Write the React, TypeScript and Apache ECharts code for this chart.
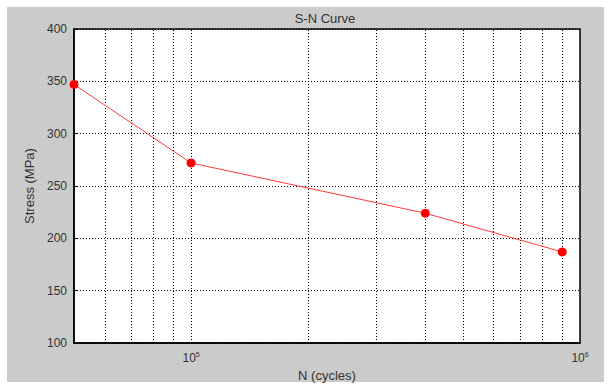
import React, { useEffect, useRef } from "react";
import * as echarts from "echarts";

const cycles = [50000, 100000, 400000, 900000];
const stress = [347, 272, 224, 187];
const minorGridX = [60000, 70000, 80000, 90000, 100000, 200000, 300000, 400000, 500000, 600000, 700000, 800000, 900000];
const titleText = "S-N Curve";
const xName = "N (cycles)";
const yName = "Stress (MPa)";

export default function App() {
  const ref = useRef<HTMLDivElement>(null);
  useEffect(() => {
    if (!ref.current) return;
    const chart = echarts.init(ref.current, undefined, { renderer: "svg" });
    const font = "Liberation Sans, Arial, sans-serif";
    chart.setOption({
      animation: false,
      backgroundColor: "#ffffff",
      textStyle: { fontFamily: font },
      graphic: [
        { type: "rect", z: -10, shape: { x: 7, y: 7, width: 597, height: 375 }, style: { fill: "#cbcbcb" }, silent: true },
        { type: "text", x: 325, y: 18, style: { text: titleText, textAlign: "center", textVerticalAlign: "middle", fontSize: 13, fill: "#333", fontFamily: font } },
      ],
      grid: { left: 74, right: 31, top: 29, bottom: 44, show: true, backgroundColor: "#ffffff", borderColor: "#000", borderWidth: 1.5 },
      xAxis: {
        type: "log",
        logBase: 10,
        min: 50000,
        max: 1000000,
        name: xName,
        nameLocation: "middle",
        nameGap: 25,
        nameTextStyle: { fontSize: 13, color: "#333", fontFamily: font },
        axisLine: { show: true, lineStyle: { color: "#000", width: 1.5 } },
        axisTick: { show: false },
        splitLine: { show: false },
        axisLabel: {
          color: "#333",
          fontSize: 12,
          fontFamily: font,
          margin: 8,
          showMinLabel: true,
          showMaxLabel: true,
          formatter: (v: number) => {
            const l = Math.log10(v);
            const e = Math.round(l);
            if (Math.abs(l - e) > 1e-6) return "";
            return "10{sup|" + e + "}";
          },
          rich: { sup: { fontSize: 7, verticalAlign: "top", lineHeight: 14, padding: [0, 0, 6, 0], color: "#333" } },
        },
      },
      yAxis: {
        type: "value",
        min: 100,
        max: 400,
        interval: 50,
        name: yName,
        nameLocation: "middle",
        nameGap: 37,
        nameRotate: 90,
        nameTextStyle: { fontSize: 13, color: "#333", fontFamily: font },
        axisLine: { show: true, lineStyle: { color: "#000", width: 1.5 } },
        axisTick: { show: true, inside: true, length: 3, lineStyle: { color: "#000" } },
        splitLine: { show: true, lineStyle: { color: "#000", type: [1, 2], width: 1 } },
        axisLabel: { color: "#333", fontSize: 12, fontFamily: font, margin: 7 },
      },
      series: [
        {
          type: "line",
          data: cycles.map((c, i) => [c, stress[i]]),
          lineStyle: { color: "#ff3a3a", width: 1 },
          itemStyle: { color: "#ff0000" },
          symbol: "circle",
          symbolSize: 9,
          z: 5,
          markLine: {
            silent: true,
            symbol: "none",
            label: { show: false },
            lineStyle: { color: "#000", type: [1, 2], width: 1 },
            data: minorGridX.map((x) => ({ xAxis: x })),
            z: 1,
          },
        },
      ],
    });
    return () => chart.dispose();
  }, []);
  return <div ref={ref} style={{ position: "fixed", left: 0, top: 0, width: 611, height: 387 }} />;
}
